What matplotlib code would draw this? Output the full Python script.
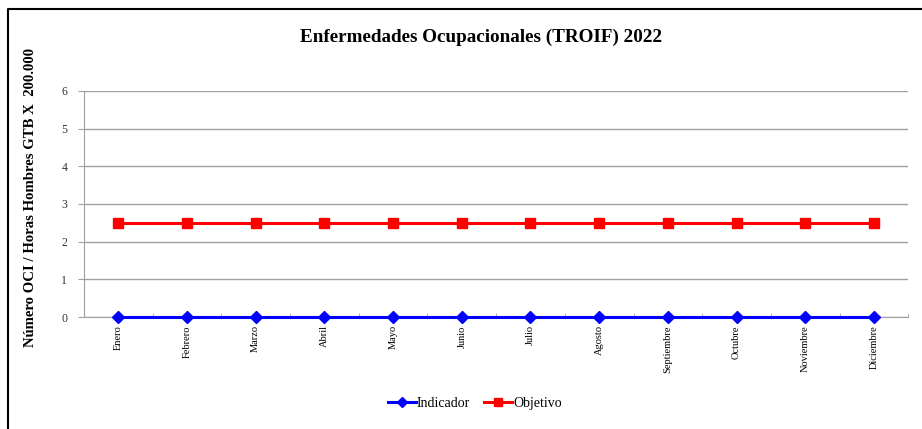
import matplotlib
matplotlib.use("Agg")
import matplotlib.pyplot as plt
from matplotlib.lines import Line2D

# Datos
meses = ["Enero", "Febrero", "Marzo", "Abril", "Mayo", "Junio", "Julio",
         "Agosto", "Septiembre", "Octubre", "Noviembre", "Diciembre"]
indicador = [0, 0, 0, 0, 0, 0, 0, 0, 0, 0, 0, 0]
objetivo = [2.5, 2.5, 2.5, 2.5, 2.5, 2.5, 2.5, 2.5, 2.5, 2.5, 2.5, 2.5]
yticks = [0, 1, 2, 3, 4, 5, 6]

plt.rcParams['font.family'] = ['Liberation Serif', 'DejaVu Serif']

fig = plt.figure(figsize=(9.22, 4.29), dpi=100)
ax = fig.add_axes([0.0911, 0.261, 0.894, 0.527])

x = list(range(len(meses)))
ax.plot(x, indicador, color='#0000ff', lw=2.2, marker='D', markersize=6, label='Indicador',
        zorder=3, clip_on=False)
ax.plot(x, objetivo, color='#ff0000', lw=2.2, marker='s', markersize=7, label='Objetivo',
        zorder=3, clip_on=False)

ax.set_xlim(-0.5, len(meses) - 0.5)
ax.set_ylim(0, 6)
ax.set_yticks(yticks)
ax.grid(axis='y', color='#a0a0a0', lw=1)
ax.set_axisbelow(True)

ax.set_xticks(x)
ax.set_xticklabels(meses, rotation=90, fontsize=7.5, va='top')
ax.set_xticks([i - 0.5 for i in range(len(meses) + 1)], minor=True)
ax.tick_params(axis='x', which='major', length=0, pad=6)
ax.tick_params(axis='x', which='minor', length=3, color='#a0a0a0', direction='in')
ax.tick_params(axis='y', length=4, color='#a0a0a0', labelsize=8.5, labelcolor='#333333', pad=8)
for s in ['top', 'right']:
    ax.spines[s].set_visible(False)
for s in ['left', 'bottom']:
    ax.spines[s].set_color('#a0a0a0')

fig.text(0.522, 0.912, "Enfermedades Ocupacionales (TROIF) 2022", ha='center', va='center',
         fontsize=13.8, fontweight='bold')
fig.text(0.033, 0.54, "Número OCI / Horas Hombres GTB X  200.000", rotation=90,
         ha='center', va='center', fontsize=10.6, fontweight='bold')

leg_handles = [
    Line2D([], [], color='#0000ff', lw=2.2, marker='D', markersize=5),
    Line2D([], [], color='#ff0000', lw=2.2, marker='s', markersize=6),
]
fig.legend(leg_handles, ['Indicador', 'Objetivo'], loc='center', bbox_to_anchor=(0.515, 0.06),
           ncol=2, frameon=False, fontsize=10, handlelength=2.0, handletextpad=0.1,
           columnspacing=1.0)

# Marco
fig.add_artist(Line2D([0.009, 0.009, 1.0], [0.0, 0.979, 0.979], color='black', lw=1.5,
                      transform=fig.transFigure))

fig.savefig("out.png", dpi=100)
